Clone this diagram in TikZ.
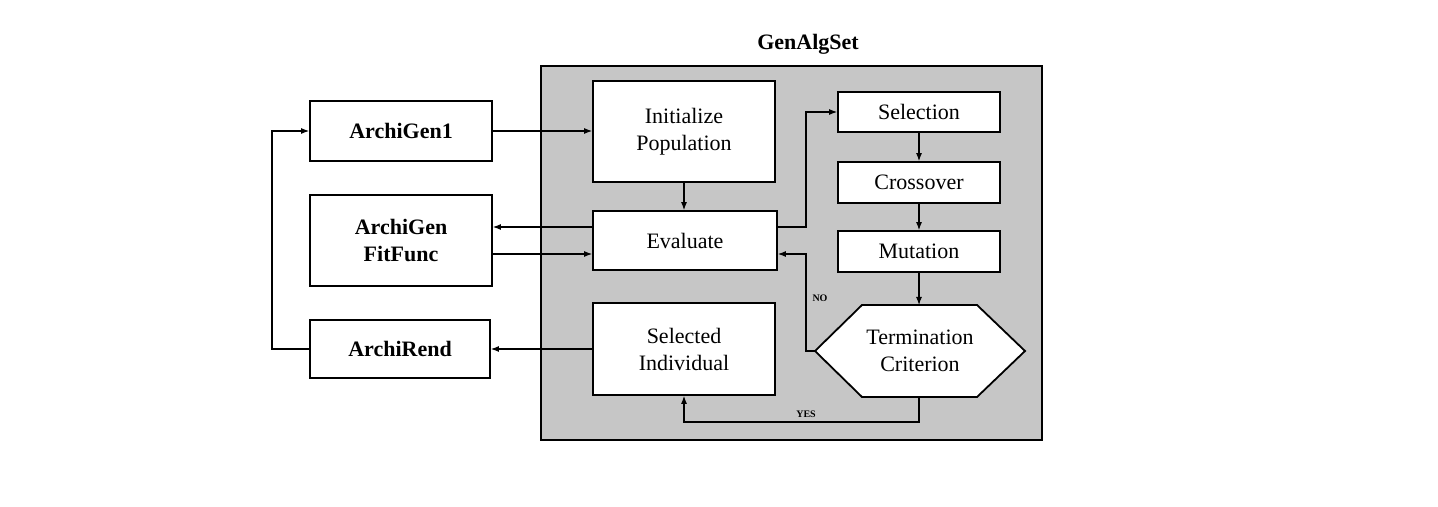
\documentclass[tikz,border=0pt]{standalone}
\usepackage{fontspec}
\setmainfont{Liberation Serif}
\usetikzlibrary{arrows.meta,calc}
\definecolor{framegray}{RGB}{198,198,198}
\begin{document}
\begin{tikzpicture}[x=0.5pt,y=-0.5pt,
  box/.style={draw=black,line width=0.9pt,fill=white,align=center,inner sep=0pt,font=\fontsize{11}{13.5}\selectfont},
  bbox/.style={box,font=\fontsize{11}{13.5}\selectfont\bfseries},
  conn/.style={line width=0.55pt,-{Latex[length=4pt,width=3pt]}},
  lbl/.style={font=\fontsize{5}{6}\selectfont\bfseries,inner sep=1pt}]
\useasboundingbox (0,0) rectangle (1438,507);
% frame
\node[draw=black,line width=0.9pt,fill=framegray,minimum width=250.5pt,minimum height=187pt,inner sep=0pt] (frame) at (791.5,253) {};
\node[font=\fontsize{11}{13.5}\selectfont\bfseries] (title) at (808,44) {GenAlgSet};
% left boxes
\node[bbox,minimum width=91pt,minimum height=30pt] (ag1) at (401,131) {ArchiGen1};
\node[bbox,minimum width=91pt,minimum height=45.5pt] (agf) at (401,240.5) {ArchiGen\\FitFunc};
\node[bbox,minimum width=90pt,minimum height=29pt] (ar) at (400,349) {ArchiRend};
% inner boxes
\node[box,minimum width=91pt,minimum height=50.5pt] (init) at (684,131.5) {Initialize\\Population};
\node[box,minimum width=92pt,minimum height=29.5pt] (eval) at (685,240.5) {Evaluate};
\node[box,minimum width=91pt,minimum height=46pt] (sel) at (684,349) {Selected\\Individual};
\node[box,minimum width=81pt,minimum height=20pt] (selection) at (919,112) {Selection};
\node[box,minimum width=81pt,minimum height=20.5pt] (cross) at (919,182.5) {Crossover};
\node[box,minimum width=81pt,minimum height=20.5pt] (mut) at (919,251.5) {Mutation};
% termination hexagon
\coordinate (tW) at (815,351);
\coordinate (tE) at (1025,351);
\coordinate (tN) at (919,305);
\coordinate (tS) at (919,397);
\draw[line width=0.9pt,fill=white] (tW) -- (862,305) -- (977,305) -- (tE) -- (977,397) -- (862,397) -- cycle;
\node[align=center,font=\fontsize{11}{13.5}\selectfont,inner sep=0pt] (term) at (920,351) {Termination\\Criterion};
% connectors
\coordinate (loopA) at (272,349);
\coordinate (loopB) at (272,131);
\draw[conn] (ar.west) -- (loopA) -- (loopB) -- (ag1.west);
\draw[conn] (ag1.east) -- (init.west |- ag1.east);
\draw[conn] (init.south -| 684,0) -- (eval.north -| 684,0);
\draw[conn] (eval.west |- 0,227) -- (agf.east |- 0,227);
\draw[conn] (agf.east |- 0,254) -- (eval.west |- 0,254);
\draw[conn] (sel.west) -- (ar.east |- sel.west);
\coordinate (upA) at (806,227);
\coordinate (upB) at (806,112);
\draw[conn] (eval.east |- upA) -- (upA) -- (upB) -- (selection.west);
\draw[conn] (selection.south) -- (cross.north);
\draw[conn] (cross.south) -- (mut.north);
\draw[conn] (mut.south) -- (tN);
\coordinate (noA) at (806,351);
\coordinate (noB) at (806,254);
\draw[conn] (tW) -- (noA) -- (noB) -- (eval.east |- noB);
\coordinate (yesA) at (919,422);
\coordinate (yesB) at (684,422);
\draw[conn] (tS) -- (yesA) -- (yesB) -- (sel.south -| yesB);
\node[lbl] (no) at (820,298) {NO};
\node[lbl] (yes) at (806,414) {YES};
\end{tikzpicture}
\end{document}
